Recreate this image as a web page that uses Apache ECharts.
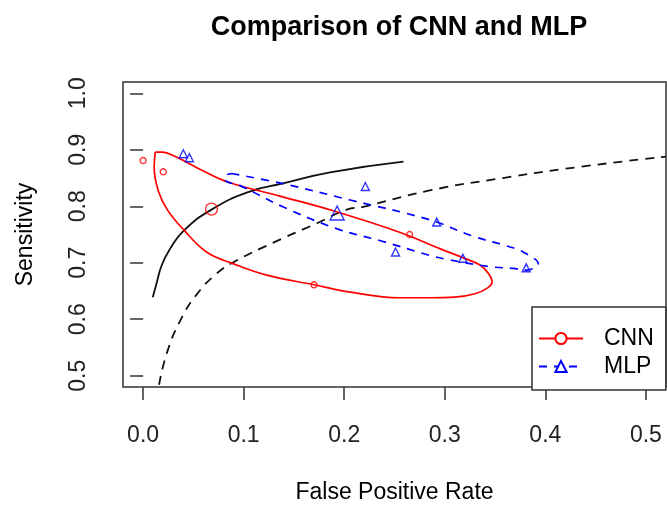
<!DOCTYPE html>
<html>
<head>
<meta charset="utf-8">
<script src="https://cdn.jsdelivr.net/npm/echarts@6/dist/echarts.min.js"></script>
<style>
html,body{margin:0;padding:0;background:#fff}
#Chart{width:667px;height:509px}
</style>
</head>
<body>
<div id="Chart"></div>
<script>
var xTicks=[0,0.1,0.2,0.3,0.4,0.5]
var yTicks=[0.5,0.6,0.7,0.8,0.9,1.0]

//CNN 各点 / 均值 / 置信椭圆
var cnnPoints=[[0.0,0.881],[0.020,0.861],[0.170,0.661],[0.265,0.750]]
var cnnMean=[[0.068,0.795]]
var cnnEllipse=[[0.012,0.896],[0.019,0.896],[0.032,0.888],[0.057,0.865],[0.084,0.843],[0.136,0.818],
    [0.189,0.792],[0.255,0.754],[0.295,0.725],[0.318,0.709],[0.335,0.696],[0.343,0.682],[0.347,0.666],
    [0.343,0.656],[0.330,0.645],[0.310,0.639],[0.285,0.638],[0.255,0.638],[0.206,0.648],[0.170,0.661],
    [0.123,0.678],[0.090,0.698],[0.063,0.719],[0.040,0.759],[0.024,0.794],[0.015,0.828],[0.011,0.869],
    [0.012,0.896]]

//MLP 各点 / 均值 / 置信椭圆
var mlpPoints=[[0.040,0.893],[0.046,0.886],[0.221,0.835],[0.292,0.772],[0.251,0.719],[0.318,0.708],[0.381,0.691]]
var mlpMean=[[0.193,0.788]]
var mlpEllipse=[[0.088,0.858],[0.139,0.840],[0.206,0.811],[0.285,0.776],[0.328,0.747],[0.361,0.730],
    [0.378,0.719],[0.393,0.698],[0.381,0.687],[0.368,0.690],[0.345,0.693],[0.302,0.706],[0.285,0.713],
    [0.236,0.739],[0.193,0.760],[0.139,0.799],[0.096,0.837],[0.083,0.844],[0.081,0.853],[0.088,0.858]]

//参考曲线
var curveSolid=[[0.0096,0.639],[0.013,0.661],[0.0186,0.696],[0.027,0.725],[0.040,0.756],[0.068,0.794],
    [0.106,0.826],[0.138,0.840],[0.186,0.860],[0.259,0.879]]
var curveDashed=[[0.0159,0.484],[0.0236,0.540],[0.0368,0.597],[0.0534,0.644],[0.0733,0.681],[0.0898,0.701],
    [0.130,0.736],[0.173,0.770],[0.2025,0.794],[0.219,0.799],[0.285,0.828],[0.358,0.850],[0.431,0.869],
    [0.520,0.888]]

var font='Liberation Sans'
var axisColor='#333'

function pointSeries(name,data,symbol,size,color){
    return {
        name:name,
        type:'scatter',
        data:data,
        symbol:symbol,
        symbolSize:size,
        silent:true,
        z:5,
        itemStyle:{color:'transparent',borderColor:color,borderWidth:1.4}
    }
}

function drawChar(){
    var myChart=echarts.init(document.getElementById('Chart'))
    var option={
        animation:false,
        title:{
            text:'Comparison of CNN and MLP',
            left:394,
            top:9,
            textAlign:'center',
            textStyle:{fontFamily:font,fontSize:27,fontWeight:'bold',color:'#000'}
        },
        grid:{
            left:123,top:82,right:1,bottom:116,
            show:true,borderColor:axisColor,borderWidth:1.5,backgroundColor:'transparent'
        },
        legend:{
            data:['CNN','MLP'],
            orient:'vertical',
            left:532,
            top:307,
            itemWidth:44,
            itemHeight:14,
            itemGap:5,
            padding:[20,12,12,6],
            borderColor:axisColor,
            borderWidth:1.5,
            backgroundColor:'#fff',
            selectedMode:false,
            textStyle:{fontFamily:font,fontSize:23,color:'#000',padding:[0,0,0,16]}
        },
        xAxis:{
            type:'value',
            min:-0.02,
            max:0.52,
            name:'False Positive Rate',
            nameLocation:'middle',
            nameGap:94,
            nameTextStyle:{fontFamily:font,fontSize:23,color:'#000'},
            axisLine:{show:false},
            splitLine:{show:false},
            axisTick:{show:true,customValues:xTicks,length:13,lineStyle:{color:axisColor,width:1.5}},
            axisLabel:{customValues:xTicks,margin:37,fontFamily:font,fontSize:23,color:'#222',
                formatter:function(v){return v.toFixed(1)}}
        },
        yAxis:{
            type:'value',
            min:0.48,
            max:1.02,
            name:'Sensitivity',
            nameLocation:'middle',
            nameRotate:90,
            nameGap:86,
            nameTextStyle:{fontFamily:font,fontSize:23,color:'#000'},
            axisLine:{show:false},
            splitLine:{show:false},
            axisTick:{show:true,customValues:yTicks,length:13,lineStyle:{color:axisColor,width:1.5}},
            axisLabel:{customValues:yTicks,margin:33,rotate:90,fontFamily:font,fontSize:23,color:'#222',
                formatter:function(v){return v.toFixed(1)}}
        },
        series:[
            {
                name:'curve1',type:'line',data:curveSolid,smooth:true,showSymbol:false,silent:true,
                lineStyle:{color:'#111',width:1.8}
            },
            {
                name:'curve2',type:'line',data:curveDashed,smooth:true,showSymbol:false,silent:true,
                lineStyle:{color:'#111',width:1.8,type:[9,7]}
            },
            {
                name:'CNN',type:'line',data:cnnEllipse,smooth:0.4,symbol:'emptyCircle',showSymbol:false,silent:true,
                itemStyle:{color:'#ff0000'},
                lineStyle:{color:'#ff0000',width:1.7}
            },
            {
                name:'MLP',type:'line',data:mlpEllipse,smooth:0.4,symbol:'emptyTriangle',showSymbol:false,silent:true,
                itemStyle:{color:'#0000ff'},
                lineStyle:{color:'#0000ff',width:1.7,type:[8,7]}
            },
            pointSeries('cnnPts',cnnPoints,'circle',6,'#ff0000'),
            pointSeries('cnnMean',cnnMean,'circle',12,'#ff0000'),
            pointSeries('mlpPts',mlpPoints,'triangle',8,'#0000ff'),
            pointSeries('mlpMean',mlpMean,'triangle',14,'#0000ff')
        ]
    }
    myChart.setOption(option)
}
drawChar()
</script>
</body>
</html>
